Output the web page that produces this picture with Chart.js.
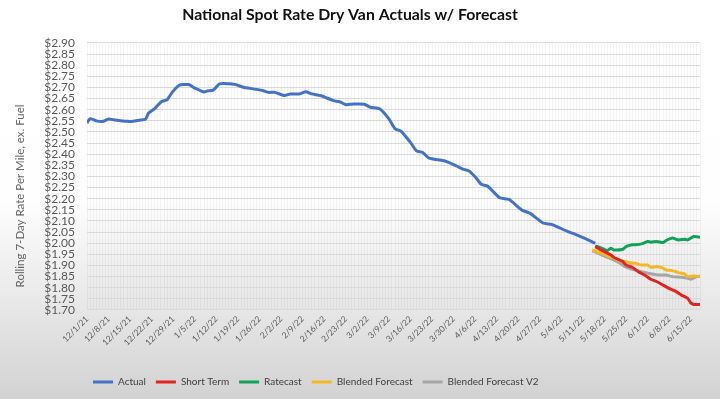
<!DOCTYPE html>
<html><head><meta charset="utf-8">
<script src="https://cdn.jsdelivr.net/npm/chart.js@4"></script>
<style>
html,body{margin:0;padding:0;}
body{width:720px;height:399px;overflow:hidden;background:linear-gradient(180deg,#ffffff 0%,#fefefe 50%,#e6e6e6 78%,#d2d2d2 100%);}
#wrap{position:relative;width:720px;height:399px;}
</style></head><body>
<div id="wrap"><canvas id="c" width="720" height="399"></canvas></div>
<script>
// Week tick labels (one every 7 days, day 0 = 12/1/21)
const weekLabels = ['12/1/21','12/8/21','12/15/21','12/22/21','12/29/21','1/5/22','1/12/22','1/19/22','1/26/22','2/2/22','2/9/22','2/16/22','2/23/22','3/2/22','3/9/22','3/16/22','3/23/22','3/30/22','4/6/22','4/13/22','4/20/22','4/27/22','5/4/22','5/11/22','5/18/22','5/25/22','6/1/22','6/8/22','6/15/22'];
const seriesNames = ['Actual','Short Term','Ratecast','Blended Forecast','Blended Forecast V2'];
const chartTitle = 'National Spot Rate Dry Van Actuals w/ Forecast';
const yAxisTitle = 'Rolling 7-Day Rate Per Mile, ex. Fuel';

// Days since 12/1/21 and values ($/mile)
const actualDays   = [0,1,3,5,7,9,13,15,17,19,20,22,24,26,27,28,30,33,35,36,38,39,41,43,46,48,51,53,57,59,61,64,66,69,71,73,76,80,82,84,86,90,92,95,98,100,102,105,107,109,111,115,117,120,122,124,126,128,130,134,137,141,144,148,151,156,158,163,165];
const actualValues = [2.540,2.560,2.550,2.547,2.558,2.554,2.548,2.548,2.553,2.558,2.585,2.605,2.635,2.645,2.665,2.684,2.710,2.713,2.697,2.691,2.680,2.684,2.688,2.716,2.717,2.714,2.700,2.696,2.686,2.678,2.678,2.664,2.671,2.671,2.681,2.671,2.663,2.641,2.636,2.623,2.625,2.625,2.611,2.604,2.559,2.514,2.503,2.453,2.415,2.408,2.382,2.373,2.366,2.347,2.333,2.325,2.299,2.265,2.257,2.204,2.197,2.151,2.133,2.091,2.084,2.053,2.043,2.013,2.000];

const shortDays   = [165,168,170,171,174,175,177,179,181,183,185,187,189,191,193,195,196,197,199];
const shortValues = [1.985,1.962,1.948,1.937,1.917,1.902,1.892,1.872,1.857,1.838,1.827,1.812,1.797,1.785,1.767,1.752,1.732,1.725,1.725];

const rateDays   = [165,167,169,170,171,174,175,177,178,180,182,183,185,187,188,190,192,194,195,197,199];
const rateValues = [1.988,1.978,1.967,1.978,1.970,1.973,1.985,1.993,1.993,1.997,2.008,2.005,2.008,2.003,2.012,2.023,2.015,2.018,2.015,2.030,2.027];

const blendDays   = [164,167,169,171,173,175,176,178,180,182,183,185,187,188,190,192,194,195,197,199];
const blendValues = [1.970,1.955,1.943,1.933,1.922,1.917,1.913,1.910,1.902,1.902,1.892,1.895,1.888,1.880,1.877,1.868,1.862,1.850,1.853,1.850];

const blend2Days   = [164,167,169,171,173,175,177,180,182,184,186,188,190,193,195,196,198,199];
const blend2Values = [1.967,1.948,1.937,1.925,1.910,1.892,1.883,1.872,1.865,1.861,1.857,1.857,1.850,1.847,1.843,1.838,1.850,1.852];

const yTicks = {min:1.70, max:2.90, step:0.05};

function pts(d, v){ return d.map((x,i)=>({x:x, y:v[i]})); }

const colors = ['#4472C4','#E2231F','#12A05A','#F2B827','#A6A6A6'];
const dsData = [pts(actualDays,actualValues),pts(shortDays,shortValues),pts(rateDays,rateValues),pts(blendDays,blendValues),pts(blend2Days,blend2Values)];

const legendShift = {id:'legendShift', afterLayout(chart){
  const lg = chart.legend; if(!lg) return;
  const h = lg.height; lg.left = 83; lg.top = 367; lg.bottom = lg.top + h;
}};
const yTitlePlugin = {id:'yTitlePlugin', afterDraw(chart){
  const c = chart.ctx; c.save(); c.translate(20,196); c.rotate(-Math.PI/2);
  c.font = '11.5px Lato'; c.fillStyle = '#666666'; c.textAlign='center'; c.textBaseline='middle';
  c.fillText(yAxisTitle,0,0); c.restore();
}};

new Chart(document.getElementById('c'), {
  type:'line',
  data:{datasets: seriesNames.map((n,i)=>({
    label:n, data:dsData[i], borderColor:colors[i], backgroundColor:colors[i],
    borderWidth:3, pointRadius:0, tension:0.2, fill:false
  }))},
  options:{
    responsive:false, animation:false,
    layout:{padding:{left:0,right:20,top:0,bottom:0}},
    plugins:{
      title:{display:true, text:chartTitle, color:'#111111', font:{family:'Lato',size:15.8,weight:'bold'}, padding:{top:5,bottom:19}},
      legend:{position:'bottom', align:'start', labels:{usePointStyle:true, pointStyle:'line', pointStyleWidth:20, padding:10, color:'#404040', font:{family:'Lato',size:10}}},
      tooltip:{enabled:false}
    },
    scales:{
      x:{type:'linear', min:0, max:199,
        ticks:{stepSize:1, autoSkip:false, includeBounds:false, minRotation:45, maxRotation:45, padding:4, color:'#595959', font:{family:'Lato',size:8.5},
          callback:(v)=> (v%7===0 && weekLabels[v/7]) ? weekLabels[v/7] : ''},
        grid:{color:'rgba(0,0,0,0.045)', drawTicks:false}, border:{display:false},
        afterFit:(s)=>{s.height=59;}},
      y:{min:yTicks.min, max:yTicks.max,
        ticks:{stepSize:yTicks.step, autoSkip:false, padding:12, color:'#595959', font:{family:'Lato',size:12},
          callback:(v)=>'$'+Number(v).toFixed(2)},
        grid:{color:'#d9d9d9', drawTicks:false}, border:{display:false},
        afterFit:(s)=>{s.width=87;}}
    }
  },
  plugins:[legendShift, yTitlePlugin]
});
</script>
</body></html>
